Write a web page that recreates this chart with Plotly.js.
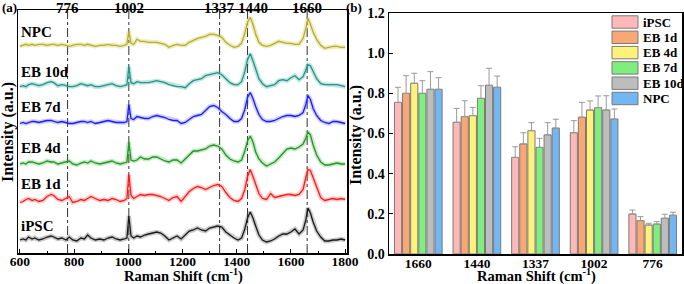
<!DOCTYPE html>
<html>
<head>
<meta charset="utf-8">
<script src="https://cdn.plot.ly/plotly-3.0.1.min.js"></script>
<style>html,body{margin:0;padding:0;background:#fff;}#chart{width:684px;height:284px;}</style>
</head>
<body>
<div id="chart"></div>
<script>
// ---------- Panel (a): Raman spectra ----------
const wavenumbers = [600,612,622,632,645,655,670,685,700,715,725,740,755,770,782,795,810,825,838,850,862,878,895,910,925,940,955,970,985,995,1002,1010,1020,1032,1045,1060,1075,1090,1105,1120,1135,1150,1165,1180,1195,1210,1225,1240,1255,1270,1285,1300,1315,1330,1345,1360,1375,1390,1405,1418,1430,1440,1450,1460,1470,1482,1495,1510,1525,1540,1555,1570,1585,1600,1615,1630,1645,1655,1663,1672,1682,1695,1710,1725,1740,1755,1770,1785,1800];

const spectraNames = ["iPSC","EB 1d","EB 4d","EB 7d","EB 10d","NPC"];
const spectraOffsets = [13, 51.5, 89, 129.5, 166.3, 206.7];

const specIPSC = [0,1,0,3,1,2,0,1,3,4,3,1,2,0,3,0,-1,2,1,5,2,0,1,0,2,3,1,0,1,2,24,4,2,4,3,5,6,7,8,7,4,0,2,4,1,5,9,10,12,10,9,12,13,14,13,8,5,2,0,2,11,22,28,22,14,5,0,-2,-1,1,4,6,6,8,11,6,10,20,32,27,18,9,3,-1,-1,0,0,1,0];
const specEB1d = [-1,0,2,3,1,2,0,1,5,7,6,2,1,3,5,-1,0,2,1,3,5,3,1,2,1,3,2,0,1,3,27,6,3,5,7,6,7,7,6,5,3,1,4,5,0,5,10,13,15,14,12,14,16,17,15,9,4,1,0,3,12,25,32,25,17,8,3,2,8,4,5,6,7,7,6,7,12,24,32,31,24,13,4,1,2,3,2,3,2];
const specEB4d = [0,1,0,2,2,1,0,1,3,2,2,0,1,2,3,0,-1,1,2,1,3,1,0,1,2,3,1,0,1,2,22,4,3,4,7,5,5,7,7,5,3,2,4,4,1,5,9,13,13,14,15,18,19,18,15,9,5,3,2,4,13,23,28,22,12,5,1,-2,0,2,6,10,15,16,15,17,20,26,32,29,19,9,2,-1,-1,0,1,0,0];
const specEB7d = [0,1,0,1,2,2,1,2,3,3,2,1,2,1,0,0,1,2,2,1,2,0,1,2,3,2,1,1,1,2,19,5,4,7,6,5,5,7,8,7,6,4,3,3,0,1,4,7,8,9,13,17,18,16,12,9,5,2,2,5,14,26,31,25,17,9,4,2,2,3,5,7,8,8,7,8,11,19,28,24,15,8,3,1,0,2,2,1,0];
const specEB10d = [0,1,0,2,3,2,1,2,4,5,4,1,2,1,0,0,1,3,2,1,2,0,0,1,2,3,1,0,1,2,20,4,3,5,4,4,4,5,6,5,4,2,1,0,0,-1,3,6,7,8,11,12,13,14,12,8,4,2,2,5,15,27,33,26,17,8,3,0,1,2,6,7,6,9,11,7,10,17,22,21,15,8,3,2,2,2,2,1,0];
const specNPC = [0,1,2,1,2,1,2,2,1,2,2,1,2,1,0,1,2,2,1,2,1,0,1,1,2,1,1,0,1,2,15,3,2,7,5,5,4,4,4,3,2,-1,1,2,1,1,4,6,8,9,10,12,12,11,9,4,1,-1,0,3,13,24,29,22,12,4,1,0,1,3,5,4,3,3,2,2,8,18,28,22,14,7,1,-2,-1,0,0,-1,-1];

const spectra = [specIPSC, specEB1d, specEB4d, specEB7d, specEB10d, specNPC];
const lineColors = ["#1a1a1a","#ff1a1a","#1e9a1e","#1a1aff","#1f968a","#b8b024"];
const bandColors = ["rgba(60,60,60,0.28)","rgba(255,80,80,0.30)","rgba(60,170,60,0.28)","rgba(80,80,255,0.28)","rgba(40,160,145,0.28)","rgba(200,190,60,0.30)"];

const bandPositions = [776, 1002, 1337, 1440, 1660];
const bandLabels = ["776","1002","1337","1440","1660"];

// ---------- Panel (b): bar chart ----------
const barCategories = ["1660","1440","1337","1002","776"];
const barNames = ["iPSC","EB 1d","EB 4d","EB 7d","EB 10d","NPC"];
const barIPSC  = [0.755, 0.656, 0.481, 0.604, 0.199];
const barEB1d  = [0.800, 0.684, 0.548, 0.681, 0.166];
const barEB4d  = [0.850, 0.689, 0.614, 0.717, 0.144];
const barEB7d  = [0.800, 0.775, 0.531, 0.729, 0.149];
const barEB10d = [0.820, 0.840, 0.593, 0.717, 0.178];
const barNPC   = [0.820, 0.830, 0.627, 0.672, 0.193];
const errIPSC  = [0.075, 0.069, 0.053, 0.060, 0.020];
const errEB1d  = [0.088, 0.079, 0.056, 0.074, 0.020];
const errEB4d  = [0.050, 0.041, 0.040, 0.045, 0.009];
const errEB7d  = [0.063, 0.063, 0.045, 0.058, 0.012];
const errEB10d = [0.088, 0.085, 0.061, 0.071, 0.020];
const errNPC   = [0.058, 0.056, 0.044, 0.050, 0.015];
const barValues = [barIPSC, barEB1d, barEB4d, barEB7d, barEB10d, barNPC];
const barErrors = [errIPSC, errEB1d, errEB4d, errEB7d, errEB10d, errNPC];
const barColors = ["#ffb8b8","#f9a874","#fff27a","#7fee7f","#bdbdbd","#72b6f2"];

// ---------- Build ----------
const W = 684, H = 284;
const px = v => v / W;
const py = v => 1 - v / H;
const serif = "Liberation Serif, Times New Roman, serif";
const bold = (s, c) => ({family: serif, size: s, color: c || "#000", weight: "bold"});

const traces = [];
spectra.forEach((s, i) => {
  const y = s.map(v => v + spectraOffsets[i]);
  traces.push({x: wavenumbers, y: y, type: "scatter", mode: "lines", xaxis: "x", yaxis: "y",
    line: {color: bandColors[i], width: 4.5}, hoverinfo: "skip", showlegend: false});
  traces.push({x: wavenumbers, y: y, type: "scatter", mode: "lines", xaxis: "x", yaxis: "y",
    line: {color: lineColors[i], width: 1.3}, name: spectraNames[i], showlegend: false});
});

barValues.forEach((vals, i) => {
  traces.push({x: barCategories, y: vals, type: "bar", xaxis: "x2", yaxis: "y2", name: barNames[i],
    marker: {color: barColors[i], line: {color: "#7a7a7a", width: 1}},
    error_y: {type: "data", symmetric: false, array: barErrors[i], arrayminus: barErrors[i].map(() => 0),
      color: "#9a9a9a", thickness: 1, width: 3},
    showlegend: false});
});

const shapes = [];
bandPositions.forEach(p => {
  shapes.push({type: "line", xref: "x", yref: "y domain", x0: p, x1: p, y0: 0, y1: 1,
    line: {color: "#333", width: 1, dash: "dashdot"}, layer: "below"});
});

const annotations = [];
bandLabels.forEach((t, i) => {
  annotations.push({text: t, x: bandPositions[i], xref: "x", y: py(7.5), yref: "paper",
    xanchor: "center", yanchor: "middle", showarrow: false, font: bold(15), xshift: i === 3 ? 5 : 0});
});
const nameY = [226, 184, 147.5, 107, 72, 32];
spectraNames.forEach((t, i) => {
  annotations.push({text: t, x: px(19), xref: "paper", y: py(nameY[i]), yref: "paper",
    xanchor: "left", yanchor: "middle", showarrow: false, font: bold(15)});
});
annotations.push({text: "(a)", x: px(0), xref: "paper", y: py(7.5), yref: "paper", xanchor: "left", yanchor: "middle", showarrow: false, font: bold(13)});
annotations.push({text: "(b)", x: px(344), xref: "paper", y: py(8), yref: "paper", xanchor: "left", yanchor: "middle", showarrow: false, font: bold(13)});
annotations.push({text: "Raman Shift (cm<sup>-1</sup>)", x: px(183), xref: "paper", y: py(275.5), yref: "paper", xanchor: "center", yanchor: "middle", showarrow: false, font: bold(14.5)});
annotations.push({text: "Raman Shift (cm<sup>-1</sup>)", x: px(536), xref: "paper", y: py(275.5), yref: "paper", xanchor: "center", yanchor: "middle", showarrow: false, font: bold(14.5)});
annotations.push({text: "Intensity (a.u.)", x: px(8), xref: "paper", y: py(132), yref: "paper", xanchor: "center", yanchor: "middle", textangle: -90, showarrow: false, font: bold(16)});
annotations.push({text: "Intensity (a.u.)", x: px(356), xref: "paper", y: py(135), yref: "paper", xanchor: "center", yanchor: "middle", textangle: -90, showarrow: false, font: bold(16)});

// custom legend for panel (b)
const legRowY = [22, 37.3, 52.6, 67.9, 83.2, 98.5];
barNames.forEach((t, i) => {
  shapes.push({type: "rect", xref: "paper", yref: "paper", x0: px(612), x1: px(638),
    y0: py(legRowY[i] + 6.2), y1: py(legRowY[i] - 6.2),
    fillcolor: barColors[i], line: {color: "#7a7a7a", width: 1}});
  annotations.push({text: t, x: px(641), xref: "paper", y: py(legRowY[i]), yref: "paper",
    xanchor: "left", yanchor: "middle", showarrow: false, font: bold(13)});
});

const layout = {
  width: W, height: H, margin: {l: 0, r: 0, t: 0, b: 0},
  paper_bgcolor: "#fff", plot_bgcolor: "#fff", showlegend: false,
  barmode: "group", bargap: 0.17, bargroupgap: 0.12,
  xaxis: {domain: [px(18), px(347)], range: [593, 1807], anchor: "y",
    showline: true, linecolor: "#000", linewidth: 1.5, mirror: true, showgrid: false, zeroline: false,
    ticks: "inside", ticklen: 4, tickcolor: "#000", tickvals: [600,800,1000,1200,1400,1600,1800],
    minor: {tickvals: [700,900,1100,1300,1500,1700], ticks: "inside", ticklen: 2, tickcolor: "#000"},
    tickfont: bold(13.5), ticklabelstandoff: -5},
  yaxis: {domain: [31/H, 274/H], range: [0, 243], anchor: "x",
    showline: true, linecolor: "#000", linewidth: 1.5, mirror: true, showgrid: false, zeroline: false,
    showticklabels: false, ticks: ""},
  xaxis2: {domain: [px(389), px(682)], anchor: "y2", type: "category", range: [-0.5, 4.5],
    showline: true, linecolor: "#000", linewidth: 1.5, mirror: true, showgrid: false, zeroline: false,
    ticks: "", tickfont: bold(13.5), ticklabelstandoff: -4},
  yaxis2: {domain: [30/H, 271/H], anchor: "x2", range: [0, 1.2], dtick: 0.2, tickformat: ".1f",
    showline: true, linecolor: "#000", linewidth: 1.5, mirror: true, showgrid: false, zeroline: false,
    ticks: "inside", ticklen: 4, tickcolor: "#000", tickfont: bold(14)},
  shapes: shapes, annotations: annotations
};

Plotly.newPlot("chart", traces, layout, {staticPlot: true, displayModeBar: false});
</script>
</body>
</html>
